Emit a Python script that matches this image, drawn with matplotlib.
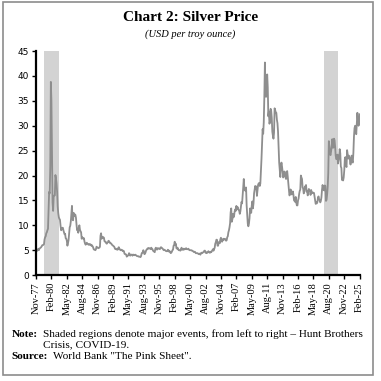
import numpy as np
import matplotlib.pyplot as plt
from matplotlib.patches import Rectangle

#
# Monthly silver price, USD per troy ounce (Nov-77 .. Feb-25)
#
p1977 = [4.8, 4.8]
p1978 = [4.9, 5.0, 5.3, 5.0, 5.3, 5.4, 5.5, 5.6, 5.8, 6.0, 6.0, 6.1]
p1979 = [6.2, 7.2, 7.6, 7.8, 8.4, 8.6, 9.0, 9.3, 13.1, 16.7, 16.4, 21.8]
p1980 = [38.8, 35.0, 25.0, 14.6, 12.9, 15.8, 16.0, 16.0, 20.1, 19.4, 18.4, 16.7]
p1981 = [13.8, 12.4, 11.6, 11.3, 11.1, 9.9, 9.0, 9.2, 9.5, 9.5, 9.0, 8.6]
p1982 = [8.2, 8.3, 7.4, 7.3, 6.9, 5.9, 6.4, 7.0, 8.2, 9.6, 9.9, 10.8]
p1983 = [12.4, 13.9, 11.2, 11.0, 12.5, 11.9, 12.2, 12.1, 11.5, 10.1, 9.0, 9.3]
p1984 = [8.5, 9.6, 10.0, 9.1, 8.8, 8.6, 7.3, 7.6, 7.4, 7.3, 7.4, 6.7]
p1985 = [6.3, 6.1, 6.3, 6.5, 6.3, 6.2, 6.1, 6.2, 6.1, 6.2, 6.1, 5.9]
p1986 = [6.0, 5.8, 5.6, 5.2, 5.1, 5.1, 5.0, 5.2, 5.7, 5.6, 5.5, 5.4]
p1987 = [5.5, 5.5, 5.7, 7.9, 8.4, 7.3, 7.7, 7.5, 7.6, 7.5, 6.8, 6.7]
p1988 = [6.7, 6.4, 6.3, 6.5, 6.6, 6.9, 6.8, 6.6, 6.4, 6.4, 6.3, 6.1]
p1989 = [6.0, 5.9, 5.8, 5.7, 5.4, 5.2, 5.3, 5.2, 5.1, 5.1, 5.4, 5.6]
p1990 = [5.2, 5.2, 5.0, 5.0, 5.1, 5.0, 4.8, 4.9, 4.8, 4.3, 4.2, 4.2]
p1991 = [4.1, 3.7, 3.9, 3.9, 4.0, 4.4, 4.2, 3.9, 4.1, 4.1, 4.1, 3.9]
p1992 = [4.1, 4.1, 4.0, 4.0, 4.1, 4.0, 3.9, 3.8, 3.8, 3.8, 3.7, 3.7]
p1993 = [3.7, 3.6, 3.8, 4.3, 4.5, 4.5, 5.0, 4.7, 4.2, 4.3, 4.6, 5.0]
p1994 = [5.1, 5.3, 5.4, 5.3, 5.4, 5.4, 5.3, 5.2, 5.5, 5.3, 5.2, 4.9]
p1995 = [4.8, 4.7, 4.6, 5.3, 5.5, 5.2, 5.1, 5.4, 5.4, 5.3, 5.3, 5.2]
p1996 = [5.5, 5.6, 5.5, 5.4, 5.3, 5.1, 5.0, 5.1, 5.0, 4.9, 4.8, 4.8]
p1997 = [4.8, 5.1, 5.0, 4.7, 4.8, 4.7, 4.4, 4.5, 4.7, 5.0, 5.1, 5.9]
p1998 = [6.0, 6.7, 6.0, 6.3, 5.4, 5.3, 5.5, 5.2, 5.0, 5.0, 5.0, 4.9]
p1999 = [5.2, 5.5, 5.1, 5.1, 5.3, 5.1, 5.2, 5.3, 5.2, 5.4, 5.2, 5.2]
p2000 = [5.2, 5.3, 5.1, 5.0, 5.0, 5.0, 5.0, 4.9, 4.9, 4.8, 4.7, 4.6]
p2001 = [4.7, 4.6, 4.4, 4.4, 4.4, 4.4, 4.3, 4.2, 4.3, 4.3, 4.1, 4.4]
p2002 = [4.5, 4.4, 4.5, 4.6, 4.7, 4.9, 4.9, 4.5, 4.6, 4.4, 4.5, 4.6]
p2003 = [4.8, 4.6, 4.5, 4.5, 4.7, 4.6, 4.8, 5.0, 5.2, 4.9, 5.2, 5.5]
p2004 = [6.3, 6.6, 7.1, 7.1, 5.9, 5.9, 6.5, 6.7, 6.4, 7.2, 7.5, 7.0]
p2005 = [6.7, 7.0, 7.3, 7.1, 7.2, 7.3, 7.1, 6.9, 7.0, 7.6, 7.8, 8.6]
p2006 = [9.0, 9.6, 10.4, 12.6, 13.4, 10.7, 11.2, 12.3, 11.6, 11.9, 12.8, 13.2]
p2007 = [12.9, 13.9, 13.2, 13.7, 13.3, 13.1, 12.9, 12.3, 12.8, 13.7, 14.7, 14.4]
p2008 = [15.9, 17.6, 19.3, 17.4, 17.0, 17.0, 17.6, 14.0, 12.2, 10.3, 9.8, 10.3]
p2009 = [11.4, 13.4, 13.0, 12.5, 14.0, 14.8, 13.4, 14.4, 16.4, 17.2, 17.9, 17.3]
p2010 = [17.8, 15.9, 17.1, 18.1, 18.4, 18.5, 17.9, 18.4, 20.7, 23.3, 26.4, 29.3]
p2011 = [28.4, 30.7, 35.8, 42.7, 37.0, 35.8, 38.0, 40.3, 37.7, 31.9, 32.9, 30.4]
p2012 = [30.9, 33.4, 33.0, 31.6, 28.8, 28.0, 27.4, 28.6, 33.5, 33.1, 32.7, 32.6]
p2013 = [31.2, 30.5, 28.8, 25.4, 22.6, 21.1, 19.7, 21.8, 22.6, 21.8, 20.8, 19.6]
p2014 = [19.9, 20.8, 20.7, 19.7, 19.3, 19.8, 20.9, 19.8, 18.4, 17.2, 16.0, 16.2]
p2015 = [17.2, 16.9, 16.2, 16.3, 16.8, 16.1, 15.0, 14.9, 14.7, 15.7, 14.5, 14.0]
p2016 = [14.0, 15.0, 15.4, 16.3, 16.9, 17.2, 20.0, 19.6, 19.3, 17.6, 17.4, 16.4]
p2017 = [16.7, 17.8, 17.5, 18.1, 16.8, 16.9, 16.0, 16.9, 17.3, 17.0, 16.9, 16.1]
p2018 = [17.1, 16.6, 16.5, 16.6, 16.5, 16.5, 15.7, 15.0, 14.3, 14.6, 14.4, 14.7]
p2019 = [15.6, 15.8, 15.2, 15.0, 14.6, 14.9, 15.6, 17.1, 18.1, 17.6, 17.1, 17.0]
p2020 = [18.0, 17.9, 14.9, 15.1, 16.2, 17.7, 20.5, 26.9, 25.8, 24.3, 24.1, 24.9]
p2021 = [25.9, 27.3, 25.6, 25.6, 27.4, 27.1, 25.8, 24.0, 23.3, 23.4, 24.2, 22.4]
p2022 = [23.1, 23.8, 25.3, 24.5, 21.8, 21.5, 19.1, 19.5, 19.0, 19.6, 21.0, 23.3]
p2023 = [23.7, 22.0, 21.7, 25.1, 24.3, 23.4, 24.0, 23.6, 23.1, 22.2, 23.4, 24.0]
p2024 = [22.8, 22.6, 24.6, 27.8, 29.5, 30.0, 29.9, 28.3, 30.4, 32.6, 31.0, 30.0]
p2025 = [30.4, 32.3]

price = (p1977 + p1978 + p1979 + p1980 + p1981 + p1982 + p1983 + p1984 + p1985
         + p1986 + p1987 + p1988 + p1989 + p1990 + p1991 + p1992 + p1993 + p1994
         + p1995 + p1996 + p1997 + p1998 + p1999 + p2000 + p2001 + p2002 + p2003
         + p2004 + p2005 + p2006 + p2007 + p2008 + p2009 + p2010 + p2011 + p2012
         + p2013 + p2014 + p2015 + p2016 + p2017 + p2018 + p2019 + p2020 + p2021
         + p2022 + p2023 + p2024 + p2025)

tick_labels = ['Nov-77', 'Feb-80', 'May-82', 'Aug-84', 'Nov-86', 'Feb-89', 'May-91',
               'Aug-93', 'Nov-95', 'Feb-98', 'May-00', 'Aug-02', 'Nov-04', 'Feb-07',
               'May-09', 'Aug-11', 'Nov-13', 'Feb-16', 'May-18', 'Aug-20', 'Nov-22',
               'Feb-25']

# shaded events as month index from Nov-77: Hunt Brothers, COVID-19
events = [(14, 41), (505, 529)]

#
# Plot
#
fig = plt.figure(figsize=(3.81, 3.81), dpi=100)
ax = fig.add_axes([0.0945, 0.278, 0.851, 0.588])

for a, b in events:
    ax.axvspan(a, b, color='#d3d3d3', lw=0, zorder=0)

x = np.arange(len(price))
ax.plot(x, price, color='#8e8e8e', lw=1.3, zorder=2)

ax.set_xlim(0, len(price))
ax.set_ylim(0, 45)
ax.set_yticks(range(0, 46, 5))
ax.set_xticks(np.arange(len(tick_labels)) * 27)
ax.set_xticklabels(tick_labels, rotation=90, family='Liberation Serif', fontsize=7.5)
ax.tick_params(axis='y', labelsize=6.5, length=3, width=1, pad=2)
ax.tick_params(axis='x', length=3, width=1, pad=2)

for s in ['top', 'right']:
    ax.spines[s].set_visible(False)
for s in ['left', 'bottom']:
    ax.spines[s].set_linewidth(1.6)

serif = 'Liberation Serif'
fs = 8.1
fig.text(0.5, 0.953, 'Chart 2: Silver Price', ha='center', va='center',
         family=serif, fontweight='bold', fontsize=11)
fig.text(0.5, 0.911, '(USD per troy ounce)', ha='center', va='center',
         family=serif, style='italic', fontsize=7.5)

fig.text(0.031, 0.123, 'Note:', ha='left', va='center', family=serif,
         fontweight='bold', fontsize=fs)
fig.text(0.112, 0.123, 'Shaded regions denote major events, from left to right \u2013 Hunt Brothers',
         ha='left', va='center', family=serif, fontsize=fs)
fig.text(0.112, 0.094, 'Crisis, COVID-19.', ha='left', va='center',
         family=serif, fontsize=fs)
fig.text(0.031, 0.063, 'Source:', ha='left', va='center', family=serif,
         fontweight='bold', fontsize=fs)
fig.text(0.138, 0.063, 'World Bank "The Pink Sheet".', ha='left', va='center',
         family=serif, fontsize=fs)

fig.patches.append(Rectangle((0.008, 0.016), 0.970, 0.978, transform=fig.transFigure,
                             fill=False, edgecolor='#8c8c8c', lw=1.2))

fig.savefig('out.png', dpi=100)
